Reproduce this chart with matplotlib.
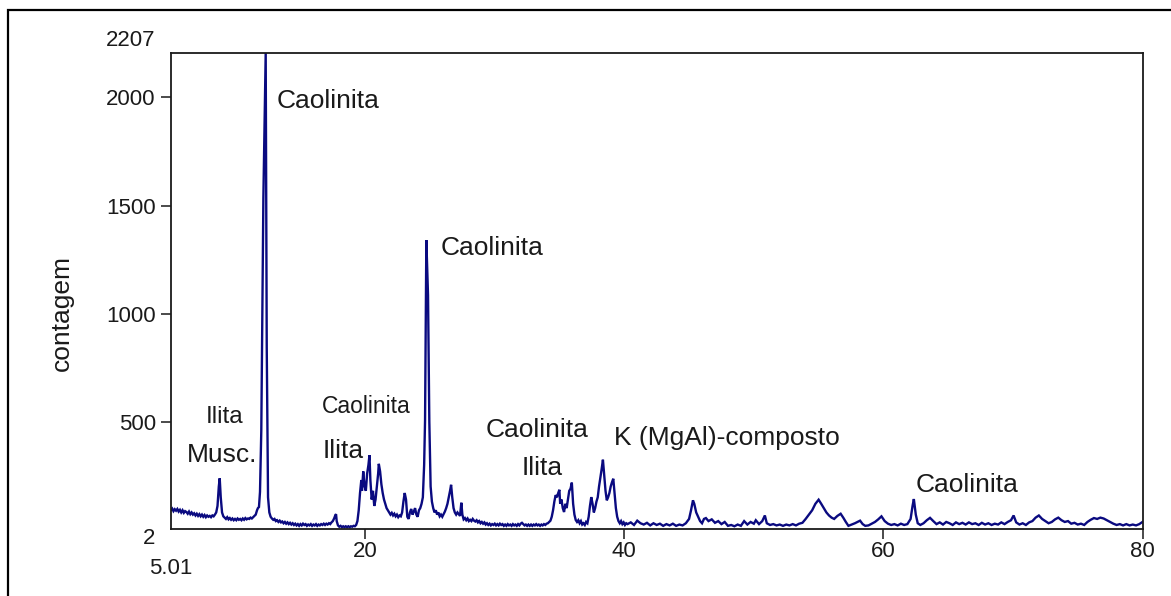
import matplotlib
matplotlib.use("Agg")
import matplotlib.pyplot as plt
from matplotlib.patches import Rectangle

# Diffractogram: 2-theta (degrees) and counts
two_theta = [
    5.01, 5.1, 5.2, 5.3, 5.4, 5.5, 5.6, 5.7, 5.8, 5.9, 6.0, 6.1, 6.2, 6.3, 6.4, 6.5,
    6.6, 6.7, 6.8, 6.9, 7.0, 7.1, 7.2, 7.3, 7.4, 7.5, 7.6, 7.7, 7.8, 7.9, 8.0, 8.1,
    8.2, 8.3, 8.4, 8.5, 8.6, 8.7, 8.77, 8.85, 8.95,
    9.05, 9.15, 9.25, 9.35, 9.45, 9.55, 9.65, 9.75, 9.85, 9.95, 10.05, 10.15, 10.25,
    10.35, 10.45, 10.55, 10.65, 10.75, 10.85, 10.95, 11.05, 11.15, 11.25, 11.35,
    11.45, 11.55, 11.65, 11.72,
    11.80, 11.88, 11.98, 12.14, 12.32, 12.40, 12.50, 12.60, 12.70,
    12.8, 12.9, 13.0, 13.1, 13.2, 13.3, 13.4, 13.5, 13.6, 13.7, 13.8, 13.9, 14.0,
    14.1, 14.2, 14.3, 14.4, 14.5, 14.6, 14.7, 14.8, 14.9, 15.0, 15.1, 15.2, 15.3,
    15.4, 15.5, 15.6, 15.7, 15.8, 15.9, 16.0, 16.1, 16.2, 16.3, 16.4, 16.5, 16.6,
    16.7, 16.8, 16.9, 17.0, 17.1, 17.2, 17.3, 17.4, 17.5, 17.6, 17.7, 17.75, 17.8,
    17.9, 18.0, 18.1, 18.2, 18.3, 18.4, 18.5, 18.6, 18.7, 18.8, 18.9, 19.0, 19.1,
    19.2, 19.3,
    19.4, 19.5, 19.6, 19.7, 19.75, 19.85, 19.95, 20.05, 20.15, 20.25, 20.33, 20.4,
    20.5, 20.6, 20.7, 20.8, 20.9, 21.0, 21.05, 21.15, 21.25, 21.35, 21.45, 21.55,
    21.65, 21.75, 21.85, 21.95, 22.05, 22.15, 22.25, 22.35, 22.45, 22.55, 22.65,
    22.75, 22.85, 22.95, 23.05, 23.15, 23.25, 23.35, 23.45, 23.55, 23.65, 23.75,
    23.85, 23.95, 24.05, 24.15, 24.25, 24.35, 24.45,
    24.55, 24.62, 24.72, 24.85, 24.95, 25.05, 25.15, 25.25, 25.35, 25.45, 25.55,
    25.65, 25.75, 25.85, 25.95, 26.05, 26.15, 26.25, 26.35, 26.45, 26.55, 26.63,
    26.72, 26.82, 26.92, 27.02, 27.12, 27.22, 27.32, 27.42, 27.5, 27.6, 27.7, 27.8,
    27.9, 28.0, 28.1, 28.2, 28.3, 28.4, 28.5, 28.6, 28.7, 28.8, 28.9, 29.0, 29.1,
    29.2, 29.3, 29.4, 29.5, 29.6, 29.7, 29.8, 29.9, 30.0, 30.1, 30.2, 30.3, 30.4,
    30.5, 30.6, 30.7, 30.8, 30.9, 31.0, 31.1, 31.2, 31.3, 31.4, 31.5, 31.6, 31.7,
    31.8, 31.9, 32.0, 32.1, 32.2, 32.3, 32.4, 32.5, 32.6, 32.7, 32.8, 32.9, 33.0,
    33.1, 33.2, 33.3, 33.4, 33.5, 33.6, 33.7, 33.8, 33.9, 34.0,
    34.1, 34.2, 34.3, 34.4, 34.5, 34.6, 34.7, 34.8, 34.9, 34.99, 35.05, 35.15,
    35.25, 35.35, 35.45, 35.55, 35.65, 35.75, 35.85, 35.95, 36.05, 36.15, 36.25,
    36.35, 36.45, 36.55, 36.65, 36.75, 36.85, 36.95, 37.05, 37.15, 37.25, 37.35,
    37.45, 37.55, 37.65, 37.75, 37.85, 37.95, 38.05, 38.15, 38.25, 38.35, 38.45,
    38.55, 38.65, 38.75, 38.85, 38.95, 39.05, 39.15, 39.25, 39.35, 39.45, 39.55,
    39.65, 39.75, 39.85, 39.95, 40.05, 40.15,
    40.25, 40.5, 40.75, 41.0, 41.25, 41.5, 41.75, 42.0, 42.25, 42.5, 42.75, 43.0,
    43.25, 43.5, 43.75, 44.0, 44.25, 44.5, 44.75, 45.0, 45.15, 45.3, 45.4, 45.55,
    45.7, 45.85, 46.0, 46.15, 46.3, 46.5, 46.75, 47.0, 47.25, 47.5, 47.75, 48.0,
    48.25, 48.5, 48.75, 49.0, 49.25, 49.5, 49.75, 50.0, 50.15, 50.4, 50.65, 50.85,
    51.0, 51.25, 51.5, 51.75, 52.0, 52.25, 52.5, 52.75, 53.0, 53.25, 53.5, 53.75,
    54.0, 54.25, 54.5, 54.75, 55.0, 55.2, 55.4, 55.6, 55.8, 56.0, 56.2, 56.45,
    56.7, 56.9, 57.1, 57.3, 57.55, 57.8, 58.0, 58.2, 58.4, 58.6, 58.85, 59.1,
    59.35, 59.6, 59.85, 60.1, 60.35, 60.6, 60.85, 61.1, 61.35, 61.6, 61.85, 62.1,
    62.25, 62.35, 62.5, 62.65, 62.85, 63.1, 63.35, 63.6, 63.85, 64.1, 64.35, 64.6,
    64.85, 65.1, 65.35, 65.6, 65.85, 66.1, 66.35, 66.6, 66.85, 67.1, 67.35, 67.6,
    67.85, 68.1, 68.35, 68.6, 68.85, 69.1, 69.35, 69.6, 69.85, 70.05, 70.25, 70.5,
    70.75, 71.0, 71.25, 71.5, 71.75, 72.0, 72.25, 72.5, 72.75, 73.0, 73.25, 73.5,
    73.75, 74.0, 74.25, 74.5, 74.75, 75.0, 75.25, 75.5, 75.75, 76.0, 76.25, 76.5,
    76.75, 77.0, 77.25, 77.5, 77.75, 78.0, 78.25, 78.5, 78.75, 79.0, 79.25, 79.5,
    79.75, 80.0,
]

counts = [
    92, 98, 86, 95, 88, 96, 84, 92, 80, 90, 78, 86, 82, 74, 84, 72,
    80, 70, 76, 66, 74, 64, 72, 62, 70, 60, 68, 58, 66, 60, 64, 58,
    66, 62, 70, 80, 110, 200, 238, 150, 80,
    62, 56, 50, 58, 48, 54, 46, 52, 44, 50, 44, 52, 46,
    50, 44, 52, 46, 54, 48, 52, 50, 56, 52, 58,
    64, 70, 90, 100,
    105, 175, 460, 1535, 2207, 845, 150, 80, 60,
    52, 46, 50, 40, 44, 36, 42, 34, 38, 30, 36, 28, 34,
    26, 32, 24, 30, 22, 28, 20, 26, 18, 26, 20, 28, 22,
    26, 18, 24, 20, 26, 18, 24, 20, 26, 18, 24, 20, 26,
    22, 28, 22, 28, 24, 30, 26, 34, 40, 52, 68, 72, 40,
    20, 14, 18, 12, 16, 12, 16, 12, 16, 12, 16, 14, 18,
    16, 22,
    40, 90, 170, 230, 180, 270, 200, 180, 260, 300, 345, 230,
    140, 180, 110, 140, 200, 260, 305, 270, 210, 170, 140, 120,
    100, 90, 80, 70, 78, 66, 74, 62, 70, 58, 66,
    62, 80, 130, 170, 140, 60, 50, 80, 96, 70, 84,
    100, 70, 60, 90, 100, 120, 150,
    300, 505, 1340, 1085, 500, 200, 130, 100, 80, 90, 70,
    80, 62, 70, 60, 72, 84, 100, 120, 150, 180, 208,
    150, 100, 80, 70, 80, 72, 64, 125, 70, 48, 54, 44,
    52, 40, 46, 40, 50, 42, 38, 44, 34, 40, 30, 36, 28,
    34, 24, 30, 22, 28, 20, 26, 22, 28, 20, 26, 20, 28,
    22, 26, 18, 24, 18, 26, 20, 24, 18, 26, 20, 24, 18,
    26, 20, 28, 32, 26, 20, 24, 18, 24, 18, 24, 18, 24,
    20, 26, 20, 24, 18, 24, 20, 26, 22, 28,
    30, 36, 42, 60, 90, 130, 160, 150, 170, 185, 120, 140,
    100, 82, 120, 100, 140, 180, 190, 218, 120, 70, 45,
    36, 44, 30, 40, 24, 30, 22, 36, 30, 60, 110,
    151, 120, 80, 100, 130, 150, 200, 240, 280, 324, 250,
    180, 136, 150, 170, 200, 220, 236, 170, 100, 60, 40,
    30, 40, 26, 34, 22, 30,
    26, 34, 22, 42, 30, 24, 32, 20, 30, 22, 28, 18,
    26, 20, 28, 18, 24, 20, 30, 50, 90, 136, 120, 80,
    60, 40, 30, 50, 54, 40, 48, 32, 40, 26, 36, 18,
    22, 16, 24, 18, 40, 24, 36, 28, 44, 26, 40, 66,
    30, 22, 26, 20, 24, 18, 24, 20, 26, 20, 28, 32,
    50, 70, 90, 120, 139, 120, 100, 80, 66, 56, 50, 64,
    74, 56, 36, 18, 24, 30, 36, 42, 26, 18, 20, 28,
    36, 48, 62, 40, 28, 22, 26, 20, 28, 22, 26, 50,
    110, 142, 70, 30, 22, 30, 44, 55, 40, 26, 34, 24,
    36, 30, 22, 34, 26, 32, 24, 34, 26, 30, 22, 32,
    24, 30, 22, 28, 24, 34, 26, 36, 44, 66, 34, 24,
    30, 22, 34, 40, 56, 66, 50, 40, 30, 36, 48, 56,
    44, 36, 40, 28, 32, 24, 28, 22, 36, 46, 54, 50,
    56, 52, 44, 36, 28, 22, 26, 20, 26, 20, 24, 20,
    26, 36,
]

x_ticks = [20, 40, 60, 80]
y_ticks = [500, 1000, 1500, 2000]
x_range = (5.01, 80)
y_range = (2, 2207)

# Phase labels: text, 2-theta anchor, baseline count, alignment, font size
phase_labels = ["Caolinita", "Caolinita", "Ilita", "Musc.", "Caolinita", "Ilita",
                "Caolinita", "Ilita", "K (MgAl)-composto", "Caolinita"]
label_theta = [13.2, 25.86, 9.14, 8.95, 20.11, 18.29, 33.27, 33.70, 39.22, 62.46]
label_counts = [1951, 1271, 494, 315, 540, 332, 427, 253, 390, 175]
label_align = ["left", "left", "center", "center", "center", "center",
               "center", "center", "left", "left"]
label_size = [19, 19, 17.5, 19, 16.5, 19, 19, 19, 19, 19]

W, H, DPI = 1171, 596, 100
fig = plt.figure(figsize=(W / DPI, H / DPI), dpi=DPI)
fig.patch.set_facecolor("white")
plt.rcParams["font.family"] = ["Liberation Sans", "DejaVu Sans"]

# outer frame (extends past the right and bottom edges)
fig.add_artist(Rectangle((8 / W, -0.1), 1.2, 1.1 - 10 / H, transform=fig.transFigure,
                         fill=False, edgecolor="black", linewidth=1.6))

ax = fig.add_axes([171 / W, (H - 529.3) / H, (1142.5 - 171) / W, (529.3 - 52.7) / H])
ax.plot(two_theta, counts, color="#0a0a80", linewidth=1.7, solid_joinstyle="miter")
ax.set_xlim(*x_range)
ax.set_ylim(*y_range)

for s in ax.spines.values():
    s.set_linewidth(1.3)
    s.set_color("#1a1a1a")

ax.set_xticks(x_ticks)
ax.set_xticklabels([str(t) for t in x_ticks], fontsize=16)
ax.set_yticks(y_ticks)
ax.set_yticklabels([str(t) for t in y_ticks], fontsize=16)
ax.tick_params(axis="x", direction="out", length=7.5, width=1.1, pad=1, colors="#1a1a1a")
ax.tick_params(axis="y", direction="out", length=7.5, width=1.1, pad=3.5, colors="#1a1a1a")

# range-end labels
ax.annotate(f"{y_range[1]}", xy=(0, y_range[1]), xycoords=("axes fraction", "data"),
            xytext=(-11.5, 8.5), textcoords="offset points", ha="right", va="center",
            fontsize=16, color="#1a1a1a")
ax.annotate(f"{y_range[0]}", xy=(0, y_range[0]), xycoords=("axes fraction", "data"),
            xytext=(-11.5, -6.5), textcoords="offset points", ha="right", va="center",
            fontsize=16, color="#1a1a1a")
ax.annotate(f"{x_range[0]}", xy=(x_range[0], 0), xycoords=("data", "axes fraction"),
            xytext=(0, -28), textcoords="offset points", ha="center", va="center",
            fontsize=16, color="#1a1a1a")

fig.text(62 / W, 1 - 313 / H, "contagem", rotation=90, ha="center", va="center",
         fontsize=19, color="#1a1a1a")

for txt, tx, ty, ha, fs in zip(phase_labels, label_theta, label_counts, label_align, label_size):
    ax.text(tx, ty, txt, ha=ha, va="baseline", fontsize=fs, color="#1a1a1a")

fig.savefig("out.png", dpi=DPI, facecolor="white")
